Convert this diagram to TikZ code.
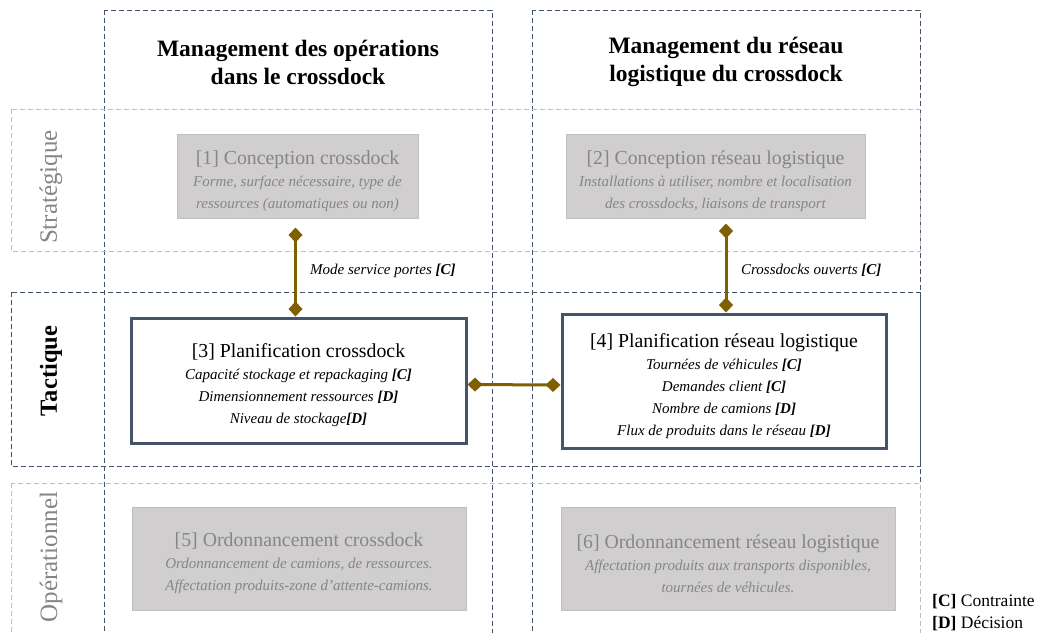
\documentclass[tikz,border=0pt]{standalone}
\usepackage{fontspec}
\setmainfont{Liberation Serif}
\usetikzlibrary{arrows.meta}
\definecolor{slate}{HTML}{44546A}
\definecolor{rowgray}{HTML}{BFBFBF}
\definecolor{boxgray}{HTML}{D0CECE}
\definecolor{txtgray}{HTML}{868686}
\definecolor{gold}{HTML}{7F6000}
\tikzset{
  colframe/.style={draw=slate, line width=1pt, dash pattern=on 5pt off 3pt},
  rowframe/.style={draw=rowgray, line width=1pt, dash pattern=on 5pt off 3pt},
  greybox/.style={draw=rowgray, fill=boxgray, line width=1pt, text=txtgray, align=center, inner sep=0pt, font=\fontsize{15}{22}\selectfont},
  mainbox/.style={draw=slate, line width=3pt, fill=white, align=center, inner sep=0pt, font=\fontsize{15}{22}\selectfont},
  coltitle/.style={align=center, font=\bfseries\fontsize{23.5}{28}\selectfont},
  rowlabel/.style={rotate=90, font=\fontsize{25}{28}\selectfont},
  lab/.style={font=\itshape\fontsize{15}{18}\selectfont, inner sep=0pt},
  legend/.style={font=\fontsize{17.5}{22}\selectfont, align=left, inner sep=0pt},
  conn/.style={draw=gold, line width=3pt, {Diamond[length=15pt,width=14pt]}-{Diamond[length=15pt,width=14pt]}},
}
\newcommand{\bt}[1]{{\fontsize{19.8}{22}\selectfont\rule{0pt}{23.5pt}#1}\\}
\begin{document}
\begin{tikzpicture}[x=1pt,y=-1pt]
\useasboundingbox (0,0) rectangle (1040,632);
\clip (0,0) rectangle (1040,632);
% columns
\draw[colframe] (104,10) rectangle (492,660);
\draw[colframe] (532,10) rectangle (920,660);
% rows
\draw[rowframe] (11,109) rectangle (920,251);
\draw[colframe] (11,292) rectangle (920,466);
\draw[rowframe] (11,483) rectangle (920,660);
% column titles
\node[coltitle] (t1) at (298,62) {Management des opérations\\dans le crossdock};
\node[coltitle] (t2) at (726,62) {Management du réseau\\logistique du crossdock};
% row labels
\node[rowlabel, text=txtgray] (r1) at (51,187) {Stratégique};
\node[rowlabel, font=\bfseries\fontsize{24.5}{28}\selectfont] (r2) at (51,371) {Tactique};
\node[rowlabel, text=txtgray] (r3) at (51,557) {Opérationnel};
% boxes
\node[greybox, minimum width=241pt, minimum height=84pt] (b1) at (297.5,176)
  {\bt{[1] Conception crossdock}\itshape Forme, surface nécessaire, type de\\\itshape ressources (automatiques ou non)};
\node[greybox, minimum width=299pt, minimum height=84pt] (b2) at (715.5,176)
  {\bt{[2] Conception réseau logistique}\itshape Installations à utiliser, nombre et localisation\\\itshape des crossdocks, liaisons de transport};
\node[mainbox, minimum width=335pt, minimum height=125pt] (b3) at (298.5,380.5)
  {\bt{[3] Planification crossdock}\itshape Capacité stockage et repackaging \textbf{[C]}\\\itshape Dimensionnement ressources \textbf{[D]}\\\itshape Niveau de stockage\textbf{[D]}};
\node[mainbox, minimum width=324pt, minimum height=134pt] (b4) at (724,381)
  {\bt{[4] Planification réseau logistique}\itshape Tournées de véhicules \textbf{[C]}\\\itshape Demandes client \textbf{[C]}\\\itshape Nombre de camions \textbf{[D]}\\\itshape Flux de produits dans le réseau \textbf{[D]}};
\node[greybox, minimum width=334pt, minimum height=103pt] (b5) at (299,558.5)
  {\bt{[5] Ordonnancement crossdock}\itshape Ordonnancement de camions, de ressources.\\\itshape Affectation produits-zone d'attente-camions.};
\node[greybox, minimum width=334pt, minimum height=103pt] (b6) at (728,558.5)
  {\bt{[6] Ordonnancement réseau logistique}\itshape Affectation produits aux transports disponibles,\\\itshape tournées de véhicules.};
% connectors
\draw[conn, shorten <=9pt] ([xshift=-3pt]b3.north |- b1.south) -- ([xshift=-3pt]b3.north);
\draw[conn, shorten <=5pt] ([xshift=2pt]b4.north |- b2.south) -- ([xshift=2pt]b4.north);
\draw[conn] ([yshift=-4pt]b3.east) -- ([yshift=-4pt]b4.west);
% connector labels
\node[lab, anchor=west] (l1) at (310,271) {Mode service portes \textbf{[C]}};
\node[lab, anchor=west] (l2) at (741,270) {Crossdocks ouverts \textbf{[C]}};
% legend
\node[legend, anchor=west] (lg) at (932,613) {\textbf{[C]} Contrainte\\\textbf{[D]} Décision};
\end{tikzpicture}
\end{document}
